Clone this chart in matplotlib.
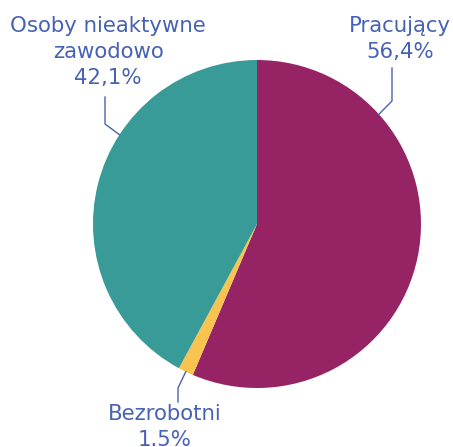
import numpy as np
import matplotlib
matplotlib.use("Agg")
import matplotlib.pyplot as plt

labels = ["Pracujący", "Bezrobotni", "Osoby nieaktywne\nzawodowo"]
values = [56.4, 1.5, 42.1]
value_texts = ["56,4%", "1.5%", "42,1%"]
colors = ["#962464", "#F8C44F", "#389B97"]
text_color = "#4662B4"

W, H = 453, 447
fig = plt.figure(figsize=(W / 100, H / 100), dpi=100)
cx, cy, r = 257, 224, 164
ax = fig.add_axes([(cx - r) / W, (H - cy - r) / H, 2 * r / W, 2 * r / H])
ax.pie(values, colors=colors, startangle=90, counterclock=False, radius=1,
       wedgeprops=dict(linewidth=0))
ax.set_xlim(-1, 1)
ax.set_ylim(-1, 1)
ax.set_aspect("equal")
ax.axis("off")

def d(px, py):
    return (px - cx) / r, (cy - py) / r

# leader layout: anchor angle on the rim, elbow pixel, end pixel, text center pixel
layout = [
    (42, (392, 101), (392, 68), (400, 39)),
    (None, (178, 388), (178, 402), (165, 427)),
    (147, (105, 124), (105, 97), (108, 52)),
]

cum = np.cumsum([0] + values)
for i, (ang, elbow, end, tpos) in enumerate(layout):
    if ang is None:
        ang = 90 - (cum[i] + cum[i + 1]) / 2 / 100 * 360
    a = np.deg2rad(ang)
    p0 = (np.cos(a), np.sin(a))
    p1 = d(*elbow)
    p2 = d(*end)
    ax.plot([p0[0], p1[0], p2[0]], [p0[1], p1[1], p2[1]], color=text_color,
            lw=1.0, clip_on=False)
    fig.text(tpos[0] / W, 1 - tpos[1] / H, labels[i] + "\n" + value_texts[i],
             ha="center", va="center", color=text_color, fontsize=15.3,
             family="DejaVu Sans", linespacing=1.38)

fig.savefig("out.png", dpi=100)
